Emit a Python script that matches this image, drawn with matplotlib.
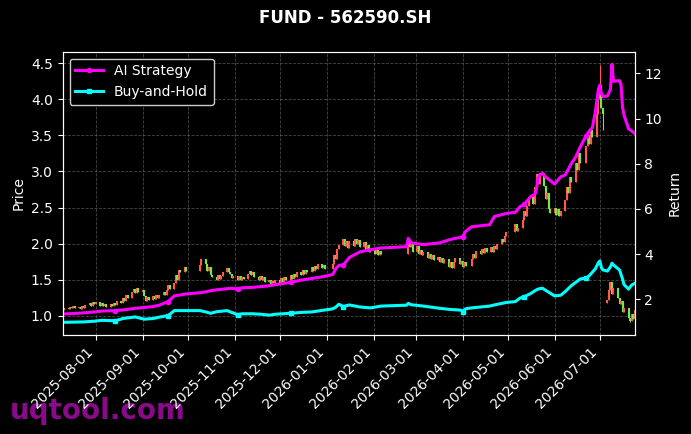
import matplotlib

matplotlib.use("Agg")
import matplotlib.dates as mdates
import matplotlib.pyplot as plt
import pandas as pd

# daily closes, one list per month (trading days only)
close_2025_07 = [1.08, 1.11, 1.09, 1.12, 1.10, 1.13, 1.10, 1.12, 1.09, 1.13, 1.11, 1.15, 1.18, 1.14, 1.19, 1.16]
close_2025_08 = [1.19, 1.14, 1.17, 1.13, 1.16, 1.12, 1.16, 1.13, 1.18, 1.15, 1.20, 1.18, 1.24, 1.21, 1.28, 1.25,
                 1.33, 1.37, 1.31, 1.38, 1.33]
close_2025_09 = [1.35, 1.27, 1.21, 1.26, 1.22, 1.27, 1.23, 1.28, 1.24, 1.29, 1.33, 1.28, 1.36, 1.42, 1.37, 1.46,
                 1.56, 1.50, 1.64, 1.60, 1.68, 1.62]
close_2025_10 = [1.70, 1.78, 1.71, 1.62, 1.68, 1.57, 1.53, 1.50, 1.57, 1.51, 1.55, 1.60, 1.66, 1.61, 1.58, 1.52, 1.55]
close_2025_11 = [1.50, 1.55, 1.49, 1.54, 1.51, 1.58, 1.62, 1.57, 1.60, 1.53, 1.50, 1.55, 1.49, 1.53, 1.47, 1.49,
                 1.43, 1.48, 1.45, 1.49]
close_2025_12 = [1.45, 1.52, 1.47, 1.53, 1.50, 1.57, 1.51, 1.58, 1.54, 1.60, 1.57, 1.63, 1.58, 1.64, 1.61, 1.67,
                 1.62, 1.69, 1.65, 1.71, 1.66, 1.70, 1.65]
close_2026_01 = [1.72, 1.84, 1.79, 1.92, 1.98, 2.07, 1.96, 2.04, 1.94, 2.03, 1.97, 2.07, 1.99, 2.05, 1.95, 2.02,
                 1.93, 1.98, 1.88, 1.93]
close_2026_02 = [1.85, 1.91, 1.84, 1.90, 1.86, 2.02, 1.95, 1.99, 1.88]
close_2026_03 = [1.96, 1.86, 1.91, 1.84, 1.89, 1.80, 1.86, 1.79, 1.84, 1.77, 1.82, 1.74, 1.80, 1.73, 1.78, 1.67,
                 1.74, 1.66, 1.75, 1.80, 1.71, 1.76]
close_2026_04 = [1.68, 1.74, 1.69, 1.78, 1.86, 1.80, 1.90, 1.86, 1.93, 1.87, 1.94, 1.88, 1.95, 1.89, 1.96, 1.92,
                 2.00, 2.07, 2.02, 2.10, 2.16]
close_2026_05 = [2.27, 2.18, 2.22, 2.32, 2.45, 2.38, 2.52, 2.64, 2.55, 2.78, 2.96, 2.82, 2.98, 2.80, 2.62, 2.70,
                 2.48, 2.42]
close_2026_06 = [2.50, 2.40, 2.48, 2.38, 2.45, 2.60, 2.78, 2.70, 2.92, 2.85, 3.12, 3.02, 3.25, 3.12, 3.35, 3.50,
                 3.38, 3.58, 3.48, 3.80, 4.00]
close_2026_07 = [4.20, 3.88, 3.80, 1.22, 1.35, 1.47, 1.30, 1.38, 1.24, 1.16, 1.20, 1.05, 1.10, 0.97, 0.93, 1.03,
                 0.96, 1.08]

month_closes = [
    ("2025-07", close_2025_07), ("2025-08", close_2025_08), ("2025-09", close_2025_09),
    ("2025-10", close_2025_10), ("2025-11", close_2025_11), ("2025-12", close_2025_12),
    ("2026-01", close_2026_01), ("2026-02", close_2026_02), ("2026-03", close_2026_03),
    ("2026-04", close_2026_04), ("2026-05", close_2026_05), ("2026-06", close_2026_06),
    ("2026-07", close_2026_07),
]

first_day = "2025-07-10"
last_day = "2026-07-24"
market_holidays = [
    "2025-10-01", "2025-10-02", "2025-10-03", "2025-10-06", "2025-10-07", "2025-10-08",
    "2026-01-01", "2026-01-02",
    "2026-02-09", "2026-02-10", "2026-02-11", "2026-02-12", "2026-02-13",
    "2026-02-16", "2026-02-17", "2026-02-18", "2026-02-19", "2026-02-20", "2026-02-23",
    "2026-04-06", "2026-05-01", "2026-05-04", "2026-05-05", "2026-06-19",
]

# explicit opens / wicks where the candle does not just open at the previous close
open_override = {"2025-07-10": 1.10, "2026-07-06": 1.17}
high_override = {"2026-07-01": 4.48}
low_override = {"2026-07-03": 3.58, "2026-07-21": 0.91}

# equity curves (return multiple)
line_dates = [
    "2025-07-10", "2025-07-17", "2025-07-24", "2025-07-31", "2025-08-05", "2025-08-14", "2025-08-19",
    "2025-08-27", "2025-09-02", "2025-09-08", "2025-09-12", "2025-09-18", "2025-09-22", "2025-09-30",
    "2025-10-09", "2025-10-13", "2025-10-16", "2025-10-20", "2025-10-27", "2025-10-30", "2025-11-03",
    "2025-11-06", "2025-11-13", "2025-11-18", "2025-11-24", "2025-11-28", "2025-12-08", "2025-12-15",
    "2025-12-22", "2025-12-31", "2026-01-05", "2026-01-07", "2026-01-09", "2026-01-12", "2026-01-16",
    "2026-01-23", "2026-01-30", "2026-02-06", "2026-02-23", "2026-02-24", "2026-02-26", "2026-03-06",
    "2026-03-17", "2026-03-24", "2026-03-31", "2026-04-01", "2026-04-03", "2026-04-07", "2026-04-19",
    "2026-04-22", "2026-04-30", "2026-05-06", "2026-05-09", "2026-05-12", "2026-05-16", "2026-05-19",
    "2026-05-20", "2026-05-21", "2026-05-22", "2026-05-24", "2026-05-26", "2026-06-01", "2026-06-05",
    "2026-06-08", "2026-06-12", "2026-06-15", "2026-06-18", "2026-06-22", "2026-06-24", "2026-06-26",
    "2026-06-28", "2026-06-30", "2026-07-01", "2026-07-02", "2026-07-03", "2026-07-06", "2026-07-08",
    "2026-07-09", "2026-07-10", "2026-07-14", "2026-07-15", "2026-07-16", "2026-07-17", "2026-07-20",
    "2026-07-22", "2026-07-24",
]
ai_strategy = [
    1.35, 1.37, 1.40, 1.44, 1.48, 1.50, 1.53,
    1.60, 1.64, 1.68, 1.74, 1.90, 2.15, 2.24,
    2.29, 2.33, 2.38, 2.42, 2.47, 2.49, 2.45,
    2.51, 2.53, 2.56, 2.60, 2.65, 2.75, 2.85,
    2.92, 3.02, 3.10, 3.35, 3.50, 3.52, 3.85,
    4.10, 4.20, 4.27, 4.33, 4.70, 4.50, 4.42,
    4.50, 4.65, 4.75, 4.77, 5.00, 5.21, 5.30,
    5.66, 5.80, 5.85, 6.10, 6.20, 6.54, 6.65,
    6.90, 7.37, 7.50, 7.58, 7.42, 7.10, 7.42,
    7.50, 8.00, 8.30, 8.75, 9.25, 9.45, 9.60,
    10.30, 11.30, 11.48, 11.10, 10.97, 11.00, 11.30,
    12.40, 11.65, 11.68, 11.50, 10.50, 10.15, 9.55,
    9.45, 9.35,
]
buy_and_hold = [
    0.98, 0.99, 1.00, 1.03, 1.07, 1.05, 1.15,
    1.22, 1.12, 1.15, 1.21, 1.28, 1.50, 1.50,
    1.50, 1.44, 1.38, 1.45, 1.50, 1.42, 1.32,
    1.36, 1.36, 1.34, 1.30, 1.34, 1.38, 1.42,
    1.44, 1.53, 1.58, 1.65, 1.78, 1.68, 1.75,
    1.66, 1.62, 1.70, 1.74, 1.82, 1.76, 1.70,
    1.60, 1.55, 1.52, 1.45, 1.58, 1.62, 1.70,
    1.75, 1.86, 1.90, 2.05, 2.12, 2.25, 2.38,
    2.42, 2.45, 2.47, 2.49, 2.40, 2.15, 2.18,
    2.34, 2.60, 2.75, 2.90, 2.94, 3.05, 3.20,
    3.35, 3.62, 3.70, 3.40, 3.30, 3.25, 3.44,
    3.60, 3.52, 3.30, 3.10, 2.90, 2.65, 2.45,
    2.63, 2.70,
]
signal_dates = ["2025-08-14", "2025-09-18", "2025-11-03", "2025-12-08", "2026-01-12", "2026-04-01",
                "2026-05-12", "2026-06-22"]

# trading calendar
trade_days = pd.bdate_range(first_day, last_day)
trade_days = trade_days[~trade_days.isin(pd.to_datetime(market_holidays))]

days, closes = [], []
for month, vals in month_closes:
    month_days = trade_days[trade_days.strftime("%Y-%m") == month]
    if len(month_days) != len(vals):
        raise ValueError(f"{month}: {len(month_days)} trading days, {len(vals)} closes")
    days.extend(month_days)
    closes.extend(vals)

opens, highs, lows = [], [], []
for i, d in enumerate(days):
    key = d.strftime("%Y-%m-%d")
    o = open_override.get(key, closes[i - 1] if i > 0 else closes[0])
    opens.append(o)
    highs.append(high_override.get(key, max(o, closes[i])))
    lows.append(low_override.get(key, min(o, closes[i])))

UP = "#ff5a48"
DOWN = "#78e64a"
colors = [UP if c >= o else DOWN for o, c in zip(opens, closes)]
body_lo = [min(o, c) for o, c in zip(opens, closes)]
body_hi = [max(o, c) for o, c in zip(opens, closes)]

fig = plt.figure(figsize=(6.91, 4.34), dpi=100, facecolor="black")
ax = fig.add_axes([0.0906, 0.2281, 0.8278, 0.6528])
ax.set_facecolor("black")

ax.vlines(days, lows, highs, colors=colors, lw=0.8)
ax.vlines(days, body_lo, body_hi, colors=colors, lw=1.5)

ax2 = ax.twinx()
line_x = pd.to_datetime(line_dates)
marks = [line_dates.index(d) for d in signal_dates]
ax2.plot(line_x, ai_strategy, color="#ff00ff", lw=2.2, marker="o", markersize=3,
         markevery=marks, label="AI Strategy")
ax2.plot(line_x, buy_and_hold, color="#00ffff", lw=2.2, marker="s", markersize=3,
         markevery=marks, label="Buy-and-Hold")

ax.set_xlim(line_x[0], line_x[-1])
ax.set_ylim(0.732, 4.661)
ax2.set_ylim(0.42, 12.96)

ax.xaxis.set_major_locator(mdates.MonthLocator())
ax.xaxis.set_major_formatter(mdates.DateFormatter("%Y-%m-%d"))
plt.setp(ax.get_xticklabels(), rotation=45, ha="right")

ax.grid(True, color="#777777", linestyle="--", linewidth=0.6, alpha=0.6)
ax.set_ylabel("Price", color="white")
ax2.set_ylabel("Return", color="white")
for a in (ax, ax2):
    a.tick_params(colors="white")
    for sp in a.spines.values():
        sp.set_color("white")

leg = ax2.legend(loc="upper left", facecolor="black", edgecolor="#cccccc", labelcolor="white",
                 framealpha=1.0)

fig.suptitle("FUND - 562590.SH", color="white", fontsize=12, fontweight="bold", y=0.98)
fig.text(0.014, 0.02, "uqtool.com", color="#8b0a8b", fontsize=20, fontweight="bold",
         va="bottom", ha="left", zorder=-1)

fig.savefig("out.png", dpi=100, facecolor="black")
plt.close(fig)
